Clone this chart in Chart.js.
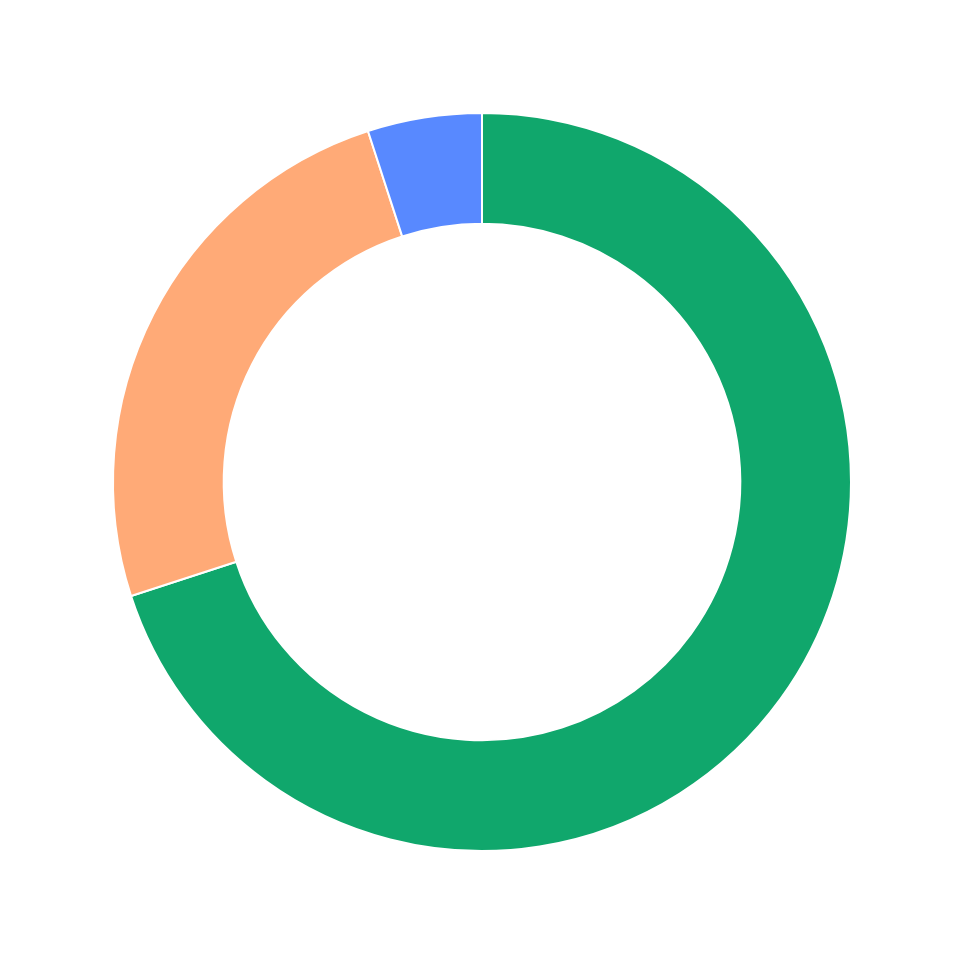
<!DOCTYPE html>
<html>
<head>
<meta charset="utf-8">
<script src="https://cdn.jsdelivr.net/npm/chart.js@4"></script>
<style>
  html, body { margin: 0; padding: 0; background: #fff; }
  #wrap { width: 964px; height: 964px; }
</style>
</head>
<body>
<div id="wrap"><canvas id="chart"></canvas></div>
<script>
const labels = ['A', 'B', 'C'];
const values = [70, 25, 5];
const colors = ['#10A76C', '#FFAA77', '#5889FF'];

window.onload = function () {
  const ctx = document.getElementById('chart').getContext('2d');
  new Chart(ctx, {
    type: 'doughnut',
    data: {
      labels: labels,
      datasets: [{
        data: values,
        backgroundColor: colors,
        borderColor: '#ffffff',
        borderWidth: 2
      }]
    },
    options: {
      responsive: true,
      maintainAspectRatio: false,
      animation: false,
      cutout: '70%',
      layout: { padding: 112 },
      plugins: {
        legend: { display: false },
        tooltip: { enabled: false }
      }
    }
  });
};
</script>
</body>
</html>
